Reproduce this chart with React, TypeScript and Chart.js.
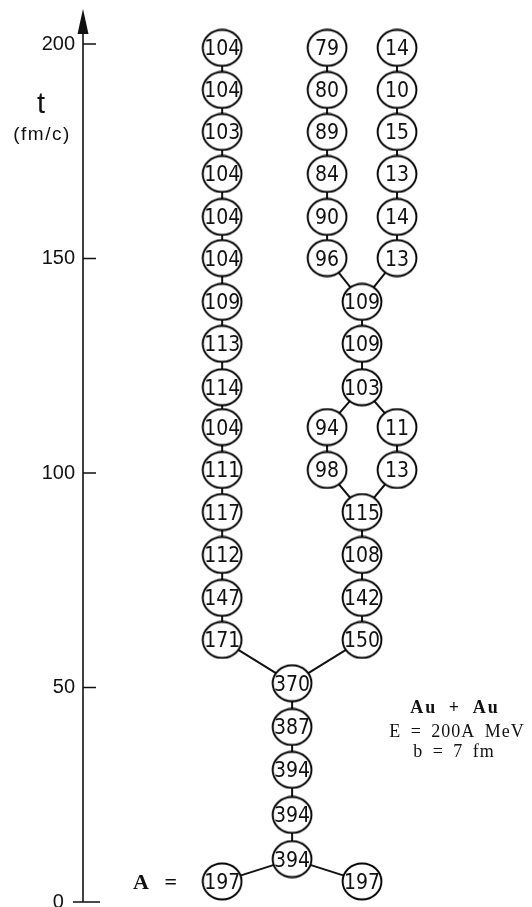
import React, { useEffect, useRef } from "react";
import { Chart, registerables } from "chart.js";

Chart.register(...registerables);

// ---- lanes (horizontal positions of the fragment columns) ----
const LANE_LEFT = 0;
const LANE_CENTRE = 1;
const LANE_INNER = 1.5;
const LANE_RIGHT = 2;
const LANE_OUTER = 2.5;

// ---- y axis ----
const timeTicks = [0, 50, 100, 150, 200];
const axisTitle = "t";
const axisUnit = "(fm/c)";

// ---- left fragment (projectile-like) ----
const leftTimes = [199.1, 189.3, 179.5, 169.7, 159.7, 150.1, 139.9, 130.1, 120.0, 110.7, 100.7, 90.9, 80.9, 70.9, 61.1];
const leftMasses = [104, 104, 103, 104, 104, 104, 109, 113, 114, 104, 111, 117, 112, 147, 171];

// ---- fused system ----
const fusedTimes = [51.0, 40.8, 30.8, 20.3, 10.0];
const fusedMasses = [370, 387, 394, 394, 394];

// ---- initial nuclei ----
const initialTimes = [4.8, 4.8];
const initialLanes = [LANE_LEFT, LANE_RIGHT];
const initialMasses = [197, 197];

// ---- right fragment, lower part ----
const rightLowTimes = [90.9, 80.9, 70.9, 61.1];
const rightLowMasses = [115, 108, 142, 150];

// ---- transient split (ring) ----
const ringTimes = [110.7, 100.7];
const ringInnerMasses = [94, 98];
const ringOuterMasses = [11, 13];

// ---- right fragment, middle part ----
const rightMidTimes = [139.9, 130.1, 120.0];
const rightMidMasses = [109, 109, 103];

// ---- final split of right fragment ----
const topTimes = [199.1, 189.3, 179.5, 169.7, 159.7, 150.1];
const topInnerMasses = [79, 80, 89, 84, 90, 96];
const topOuterMasses = [14, 10, 15, 13, 14, 13];

const LABEL_FONT = "'Liberation Sans Narrow', 'DejaVu Sans Condensed', 'Liberation Sans', sans-serif";
const SERIF = "'Liberation Serif', 'DejaVu Serif', serif";
const SANS = "'Liberation Sans', 'DejaVu Sans', sans-serif";

type NodePt = { x: number; y: number; a: number };

function makeEllipse(): HTMLCanvasElement {
  const c = document.createElement("canvas");
  c.width = 42;
  c.height = 39;
  const g = c.getContext("2d")!;
  g.beginPath();
  g.ellipse(21, 19.5, 19.4, 18.0, 0, 0, Math.PI * 2);
  g.fillStyle = "#ffffff";
  g.fill();
  g.lineWidth = 1.9;
  g.strokeStyle = "#000000";
  g.stroke();
  return c;
}

export default function App() {
  const ref = useRef<HTMLCanvasElement | null>(null);

  useEffect(() => {
    if (!ref.current) return;

    const nodes: NodePt[] = [];
    const chain = (lanes: number[] | number, times: number[], masses: number[]) =>
      times.map((t, i) => {
        nodes.push({ x: Array.isArray(lanes) ? lanes[i] : lanes, y: t, a: masses[i] });
        return nodes.length - 1;
      });

    const L = chain(LANE_LEFT, leftTimes, leftMasses);
    const F = chain(LANE_CENTRE, fusedTimes, fusedMasses);
    const P = chain(initialLanes, initialTimes, initialMasses);
    const RL = chain(LANE_RIGHT, rightLowTimes, rightLowMasses);
    const RI = chain(LANE_INNER, ringTimes, ringInnerMasses);
    const RO = chain(LANE_OUTER, ringTimes, ringOuterMasses);
    const RM = chain(LANE_RIGHT, rightMidTimes, rightMidMasses);
    const TI = chain(LANE_INNER, topTimes, topInnerMasses);
    const TO = chain(LANE_OUTER, topTimes, topOuterMasses);

    const edges: [number, number][] = [];
    const link = (ids: number[]) => {
      for (let i = 0; i < ids.length - 1; i++) edges.push([ids[i], ids[i + 1]]);
    };
    [L, F, RL, RI, RO, RM, TI, TO].forEach(link);
    const last = (a: number[]) => a[a.length - 1];
    edges.push([last(L), F[0]]);
    edges.push([last(RL), F[0]]);
    edges.push([last(F), P[0]]);
    edges.push([last(F), P[1]]);
    edges.push([RL[0], last(RI)]);
    edges.push([RL[0], last(RO)]);
    edges.push([RI[0], last(RM)]);
    edges.push([RO[0], last(RM)]);
    edges.push([RM[0], last(TI)]);
    edges.push([RM[0], last(TO)]);

    const ellipse = makeEllipse();

    const nodeDataset: any = {
      label: "fragments",
      data: nodes.map((n) => ({ x: n.x, y: n.y })),
      pointStyle: ellipse,
      pointRadius: 20,
      showLine: false,
      clip: false,
      order: 0,
    };

    const edgeDatasets: any[] = edges.map(([a, b]) => ({
      label: "link",
      data: [
        { x: nodes[a].x, y: nodes[a].y },
        { x: nodes[b].x, y: nodes[b].y },
      ],
      showLine: true,
      pointRadius: 0,
      borderColor: "#111111",
      borderWidth: 2,
      clip: false,
      order: 1,
    }));

    const axisPlugin = {
      id: "timeAxis",
      afterDraw(chart: any) {
        const { ctx, chartArea, scales } = chart;
        const ys = scales.y;
        const x0 = chartArea.left;
        const yBottom = ys.getPixelForValue(0);
        ctx.save();
        ctx.strokeStyle = "#111111";
        ctx.fillStyle = "#111111";
        ctx.lineWidth = 1.6;
        ctx.beginPath();
        ctx.moveTo(x0, yBottom);
        ctx.lineTo(x0, 24);
        ctx.stroke();
        ctx.beginPath();
        ctx.moveTo(x0, 9);
        ctx.lineTo(x0 - 5.5, 34);
        ctx.lineTo(x0 + 5.5, 34);
        ctx.closePath();
        ctx.fill();
        ctx.beginPath();
        ys.ticks.forEach((t: any) => {
          const py = ys.getPixelForValue(t.value);
          if (t.value === 0) {
            ctx.moveTo(x0 - 10, py);
            ctx.lineTo(x0 + 17, py);
          } else {
            ctx.moveTo(x0, py);
            ctx.lineTo(x0 + 13, py);
          }
        });
        ctx.stroke();

        // axis title
        ctx.textAlign = "center";
        ctx.textBaseline = "alphabetic";
        ctx.font = `29px ${SANS}`;
        ctx.fillText(axisTitle, 41, 113);
        ctx.font = `19px ${SANS}`;
        (ctx as any).letterSpacing = "1.5px";
        ctx.fillText(axisUnit, 42, 140);
        (ctx as any).letterSpacing = "0px";

        // A =
        ctx.textAlign = "left";
        ctx.font = `bold 22px ${SERIF}`;
        (ctx as any).letterSpacing = "3px";
        (ctx as any).wordSpacing = "4px";
        ctx.fillText("A =", 133, 889);

        // reaction
        ctx.textAlign = "center";
        ctx.font = `bold 18px ${SERIF}`;
        (ctx as any).letterSpacing = "2px";
        (ctx as any).wordSpacing = "5px";
        ctx.fillText("Au + Au", 455, 713);
        ctx.font = `18px ${SERIF}`;
        (ctx as any).letterSpacing = "1px";
        (ctx as any).wordSpacing = "4px";
        ctx.fillText("E = 200A MeV", 457, 737);
        ctx.fillText("b = 7 fm", 454, 757);
        (ctx as any).letterSpacing = "0px";
        (ctx as any).wordSpacing = "0px";
        ctx.restore();
      },
    };

    const labelPlugin = {
      id: "nodeLabels",
      afterDatasetsDraw(chart: any) {
        const { ctx } = chart;
        const meta = chart.getDatasetMeta(0);
        ctx.save();
        ctx.fillStyle = "#111111";
        ctx.font = `21px ${LABEL_FONT}`;
        ctx.textAlign = "center";
        ctx.textBaseline = "alphabetic";
        meta.data.forEach((el: any, i: number) => {
          ctx.fillText(String(nodes[i].a), el.x, el.y + 7.5);
        });
        ctx.restore();
      },
    };

    const chart = new Chart(ref.current, {
      type: "scatter",
      data: { datasets: [nodeDataset, ...edgeDatasets] },
      options: {
        animation: false,
        responsive: false,
        events: [],
        layout: { autoPadding: false, padding: { top: 44, bottom: 5, left: 0, right: 0 } },
        plugins: { legend: { display: false }, tooltip: { enabled: false } },
        scales: {
          x: { type: "linear", display: false, min: -1.99, max: 4.43 },
          y: {
            type: "linear",
            position: "left",
            min: 0,
            max: 200,
            afterFit: (s: any) => {
              s.width = 83;
              s.paddingTop = 0;
              s.paddingBottom = 0;
            },
            afterBuildTicks: (s: any) => {
              s.ticks = timeTicks.map((v) => ({ value: v }));
            },
            ticks: {
              padding: 8,
              color: "#111111",
              font: { family: SANS, size: 20 },
              callback: (v: any) => (Number(v) === 0 ? "0  " : String(v)),
            },
            grid: { display: false, drawTicks: false },
            border: { display: false },
          },
        },
      } as any,
      plugins: [axisPlugin, labelPlugin],
    });

    return () => chart.destroy();
  }, []);

  return (
    <div style={{ position: "absolute", left: 0, top: 0, width: 532, height: 907, background: "#fff" }}>
      <canvas ref={ref} width={532} height={907} style={{ display: "block" }} />
    </div>
  );
}
